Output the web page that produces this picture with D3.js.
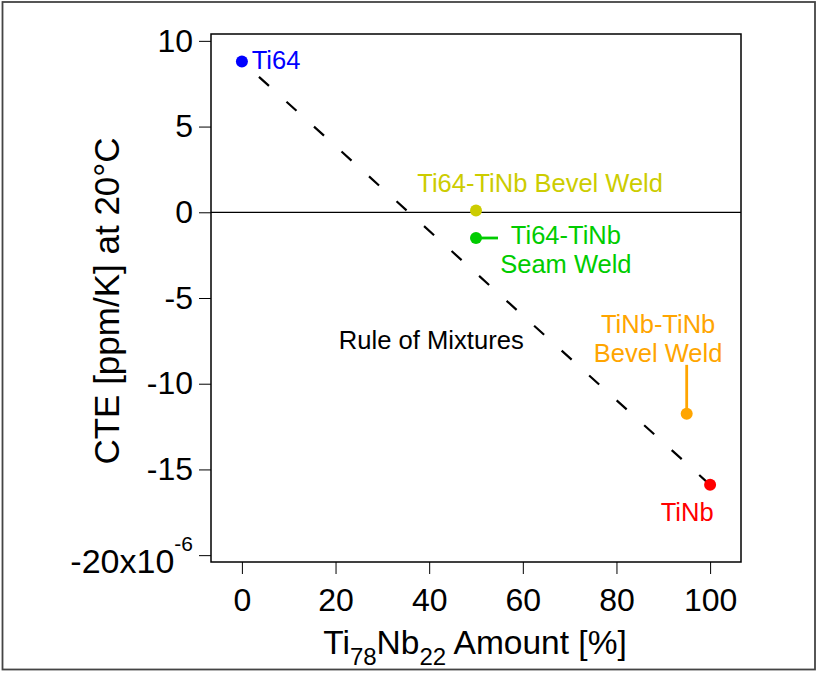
<!DOCTYPE html>
<html>
<head>
<meta charset="utf-8">
<script src="https://cdn.jsdelivr.net/npm/d3@7"></script>
<style>
  html, body { margin: 0; padding: 0; background: #fff; }
  svg { display: block; }
  text { font-family: "Liberation Sans", Arial, Helvetica, sans-serif; }
</style>
</head>
<body>
<svg id="chart" width="817" height="673"></svg>
<script>
// ---- data ----
const sampleNames = ["Ti64", "Ti64-TiNb Bevel Weld", "Ti64-TiNb Seam Weld", "TiNb-TiNb Bevel Weld", "TiNb"];
const tiNbAmount  = [0, 50, 50, 95, 100];          // %
const cteValues   = [8.8, 0.1, -1.5, -11.75, -15.9]; // ppm/K
const sampleColors = ["#0000ff", "#cccc00", "#00cc00", "#ffa500", "#ff0000"];

const ruleX = [0, 100];
const ruleY = [8.8, -15.9];

const xTicks = [0, 20, 40, 60, 80, 100];
const yTicks = [10, 5, 0, -5, -10, -15, -20];

// label layout (data coordinates), lines of text per sample
const labelLines = [["Ti64"], ["Ti64-TiNb Bevel Weld"], ["Ti64-TiNb", "Seam Weld"], ["TiNb-TiNb", "Bevel Weld"], ["TiNb"]];
const labelX = [2.1, 63.7, 69.2, 88.9, 95.1];
const labelY = [8.35, 1.2, -1.85, -7.05, -18.0];
const labelAnchor = ["start", "middle", "middle", "middle", "middle"];
// leader lines: [x2, y2] end in data coords (null = none)
const leaderEnd = [null, null, [54.7, -1.5], [95, -8.9], null];

// ---- layout ----
const W = 817, H = 673;
const plot = { left: 211, right: 741, top: 34, bottom: 562 };
const svg = d3.select("#chart");

const x = d3.scaleLinear().domain([-6.6, 106.6]).range([plot.left, plot.right]);
const y = d3.scaleLinear().domain([-20.4, 10.4]).range([plot.bottom, plot.top]);

// outer figure border
svg.append("rect").attr("x", 2.5).attr("y", 2).attr("width", 812.5).attr("height", 667.5)
  .attr("fill", "none").attr("stroke", "#444").attr("stroke-width", 1.8);

// zero line
svg.append("line")
  .attr("x1", plot.left).attr("x2", plot.right)
  .attr("y1", y(0)).attr("y2", y(0))
  .attr("stroke", "#000").attr("stroke-width", 1.2);

// rule of mixtures dashed line
svg.append("line")
  .attr("x1", x(ruleX[0])).attr("y1", y(ruleY[0]))
  .attr("x2", x(ruleX[1])).attr("y2", y(ruleY[1]))
  .attr("stroke", "#000").attr("stroke-width", 2.2)
  .attr("stroke-dasharray", "13.5 23.6").attr("stroke-dashoffset", 14.1);

svg.append("text").attr("x", x(20.7)).attr("y", y(-7.95))
  .attr("font-size", 25.6).attr("fill", "#000").text("Rule of Mixtures");

// axes
const fmt = d => String(d);
const xAxis = d3.axisBottom(x).tickValues(xTicks).tickSize(12).tickPadding(14).tickFormat(fmt);
const gx = svg.append("g").attr("transform", `translate(0,${plot.bottom})`).call(xAxis);
gx.select(".domain").remove();
gx.selectAll("text").attr("font-size", 32).attr("fill", "#000").style("font-family", "'Liberation Sans', Arial, sans-serif");
gx.selectAll("line").attr("stroke", "#000");

const yAxis = d3.axisLeft(y).tickValues(yTicks).tickSize(12).tickPadding(6).tickFormat(fmt);
const gy = svg.append("g").attr("transform", `translate(${plot.left},0)`).call(yAxis);
gy.select(".domain").remove();
gy.selectAll("text").attr("font-size", 32).attr("fill", "#000").style("font-family", "'Liberation Sans', Arial, sans-serif");
gy.selectAll("line").attr("stroke", "#000");
gy.selectAll(".tick").filter(d => d === -20).select("text")
  .text(null).attr("dy", null).attr("y", 17)
  .call(t => {
    t.append("tspan").attr("font-size", 34).text("-20x10");
    t.append("tspan").attr("font-size", 21).attr("dy", -22).text("-6");
  });

// plot frame
svg.append("rect")
  .attr("x", plot.left).attr("y", plot.top)
  .attr("width", plot.right - plot.left).attr("height", plot.bottom - plot.top)
  .attr("fill", "none").attr("stroke", "#000").attr("stroke-width", 1.5);

// leader lines
leaderEnd.forEach((e, i) => {
  if (!e) return;
  svg.append("line")
    .attr("x1", x(tiNbAmount[i])).attr("y1", y(cteValues[i]))
    .attr("x2", x(e[0])).attr("y2", y(e[1]))
    .attr("stroke", sampleColors[i]).attr("stroke-width", 2.8);
});

// points
svg.selectAll("circle.pt").data(sampleNames).join("circle")
  .attr("class", "pt")
  .attr("cx", (d, i) => x(tiNbAmount[i]))
  .attr("cy", (d, i) => y(cteValues[i]))
  .attr("r", 6)
  .attr("fill", (d, i) => sampleColors[i]);

// labels
labelLines.forEach((lines, i) => {
  const t = svg.append("text")
    .attr("x", x(labelX[i])).attr("y", y(labelY[i]))
    .attr("text-anchor", labelAnchor[i])
    .attr("font-size", 25.5).attr("fill", sampleColors[i]);
  lines.forEach((ln, j) => {
    t.append("tspan").attr("x", x(labelX[i])).attr("dy", j === 0 ? 0 : 28.5).text(ln);
  });
});

// axis titles
svg.append("text")
  .attr("transform", `translate(119,301) rotate(-90)`)
  .attr("text-anchor", "middle").attr("font-size", 35).attr("fill", "#000")
  .text("CTE [ppm/K] at 20°C");

const xt = svg.append("text").attr("x", 475).attr("y", 654)
  .attr("text-anchor", "middle").attr("font-size", 33.5).attr("fill", "#000");
xt.append("tspan").text("Ti");
xt.append("tspan").attr("font-size", 24).attr("dy", 11).text("78");
xt.append("tspan").attr("dy", -11).text("Nb");
xt.append("tspan").attr("font-size", 24).attr("dy", 11).text("22");
xt.append("tspan").attr("dy", -11).text(" Amount [%]");
</script>
</body>
</html>
